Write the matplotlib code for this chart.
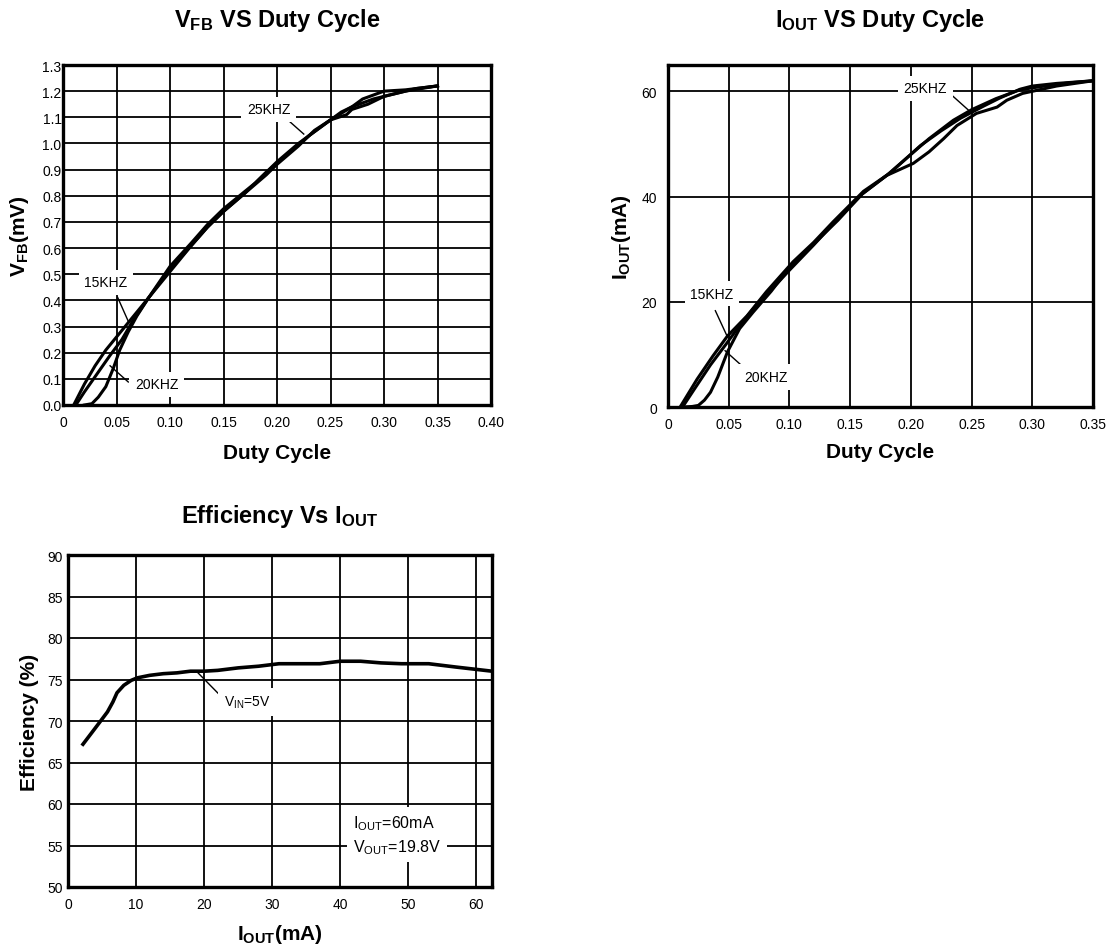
import matplotlib
matplotlib.use("Agg")
import matplotlib.pyplot as plt
from matplotlib.ticker import MultipleLocator, FixedLocator

plt.rcParams["font.family"] = ["Liberation Sans", "DejaVu Sans"]
plt.rcParams["mathtext.fontset"] = "custom"
plt.rcParams["mathtext.rm"] = "Liberation Sans"
plt.rcParams["mathtext.bf"] = "Liberation Sans:bold"
plt.rcParams["mathtext.it"] = "Liberation Sans:italic"

# --- V_FB vs duty cycle ---
vfb_x15 = [0.010, 0.020, 0.030, 0.040, 0.050, 0.060, 0.070, 0.080, 0.090, 0.100, 0.110, 0.120, 0.135,
           0.150, 0.170, 0.190, 0.200, 0.220, 0.235, 0.250, 0.260, 0.270, 0.280, 0.290, 0.300, 0.320, 0.350]
vfb_y15 = [0.00, 0.08, 0.15, 0.21, 0.26, 0.31, 0.36, 0.41, 0.46, 0.51, 0.56, 0.61, 0.68,
           0.74, 0.81, 0.88, 0.92, 0.99, 1.05, 1.09, 1.12, 1.14, 1.17, 1.185, 1.20, 1.205, 1.22]
vfb_x20 = [0.012, 0.020, 0.032, 0.044, 0.055, 0.065, 0.080, 0.100, 0.120, 0.135, 0.150, 0.170, 0.190,
           0.210, 0.230, 0.250, 0.270, 0.290, 0.310, 0.330, 0.350]
vfb_y20 = [0.00, 0.05, 0.12, 0.19, 0.25, 0.32, 0.41, 0.52, 0.61, 0.68, 0.74, 0.81, 0.89,
           0.96, 1.03, 1.09, 1.14, 1.17, 1.19, 1.21, 1.22]
vfb_x25 = [0.020, 0.027, 0.033, 0.040, 0.047, 0.053, 0.061, 0.069, 0.080, 0.100, 0.120, 0.135, 0.150,
           0.165, 0.180, 0.200, 0.220, 0.240, 0.250, 0.265, 0.270, 0.285, 0.300, 0.320, 0.350]
vfb_y25 = [0.00, 0.005, 0.03, 0.07, 0.14, 0.21, 0.28, 0.34, 0.41, 0.53, 0.62, 0.69, 0.75,
           0.80, 0.85, 0.93, 1.00, 1.06, 1.09, 1.11, 1.13, 1.15, 1.18, 1.20, 1.22]

# --- I_OUT vs duty cycle ---
iout_x15 = [0.010, 0.024, 0.037, 0.049, 0.065, 0.081, 0.103, 0.120, 0.136, 0.161, 0.183, 0.208, 0.225,
            0.241, 0.260, 0.273, 0.290, 0.300, 0.320, 0.350]
iout_y15 = [0.0, 5.3, 9.7, 13.5, 17.3, 21.9, 27.6, 31.3, 35.2, 41.0, 44.5, 49.7, 52.5,
            54.9, 57.2, 58.7, 60.4, 61.0, 61.5, 62.0]
iout_x20 = [0.012, 0.022, 0.035, 0.048, 0.060, 0.075, 0.090, 0.100, 0.120, 0.140, 0.160, 0.180, 0.200,
            0.215, 0.235, 0.250, 0.270, 0.290, 0.310, 0.330, 0.350]
iout_y20 = [0.0, 3.5, 8.0, 12.0, 15.8, 20.0, 23.5, 26.0, 30.8, 35.8, 40.5, 44.0, 48.0,
            51.0, 54.5, 56.5, 58.6, 60.3, 61.0, 61.6, 62.0]
iout_x25 = [0.012, 0.020, 0.025, 0.030, 0.035, 0.041, 0.049, 0.059, 0.070, 0.085, 0.100, 0.120, 0.140,
            0.160, 0.180, 0.202, 0.215, 0.227, 0.238, 0.254, 0.271, 0.279, 0.292, 0.304, 0.320, 0.350]
iout_y25 = [0.0, 0.1, 0.3, 1.3, 2.8, 5.7, 10.5, 14.9, 18.0, 22.0, 26.5, 31.0, 35.5,
            40.5, 44.0, 46.3, 48.5, 51.0, 53.5, 55.8, 57.0, 58.3, 59.6, 60.2, 61.0, 62.0]

# --- efficiency vs I_OUT ---
eff_x = [2.2, 3.5, 4.7, 5.8, 6.6, 7.2, 8.2, 9.3, 10.2, 12, 14, 16, 18, 20, 22, 25, 28, 31, 34, 37,
         40, 43, 46, 49, 53, 57, 62.3]
eff_y = [67.2, 68.6, 69.9, 71.1, 72.3, 73.4, 74.3, 74.9, 75.2, 75.5, 75.7, 75.8, 76.0, 76.0, 76.1,
         76.4, 76.6, 76.9, 76.9, 76.9, 77.2, 77.2, 77.0, 76.9, 76.9, 76.5, 76.0]

duty_ticks1 = [0, 0.05, 0.10, 0.15, 0.20, 0.25, 0.30, 0.35, 0.40]
duty_labels1 = ["0", "0.05", "0.10", "0.15", "0.20", "0.25", "0.30", "0.35", "0.40"]
duty_ticks2 = duty_ticks1[:-1]
duty_labels2 = duty_labels1[:-1]

W, H = 1110, 945
fig = plt.figure(figsize=(W / 100, H / 100), dpi=100)


def box(l, t, r, b):
    return [l / W, 1 - b / H, (r - l) / W, (b - t) / H]


def style(ax):
    ax.grid(True, color="black", lw=1.3)
    ax.set_axisbelow(True)
    for s in ax.spines.values():
        s.set_linewidth(2.4)
    ax.tick_params(length=0, labelsize=10)


def note(ax, txt, xy, line_from, line_to, fs=10):
    ax.plot([line_from[0], line_to[0]], [line_from[1], line_to[1]], color="black", lw=1.0, zorder=4)
    ax.text(xy[0], xy[1], txt, fontsize=fs, ha="center", va="center", zorder=5,
            bbox=dict(facecolor="white", edgecolor="none", pad=4))


# plot 1
ax1 = fig.add_axes(box(63, 66, 491, 406))
style(ax1)
for xs, ys in [(vfb_x15, vfb_y15), (vfb_x20, vfb_y20), (vfb_x25, vfb_y25)]:
    ax1.plot(xs, ys, color="black", lw=2.2, zorder=3)
ax1.set_xlim(0, 0.40)
ax1.set_ylim(0, 1.3)
ax1.xaxis.set_major_locator(FixedLocator(duty_ticks1))
ax1.set_xticklabels(duty_labels1)
ax1.yaxis.set_major_locator(MultipleLocator(0.1))
ax1.yaxis.set_major_formatter(lambda v, p: f"{v:.1f}")
ax1.tick_params(axis="y", pad=1)
ax1.tick_params(axis="x", pad=7)
ax1.set_title(r"V$_{\mathbf{FB}}$ VS Duty Cycle", fontsize=17, fontweight="bold", pad=28)
ax1.set_xlabel("Duty Cycle", fontsize=15, fontweight="bold", labelpad=10)
ax1.set_ylabel(r"V$_{\mathbf{FB}}$(mV)", fontsize=15, fontweight="bold", labelpad=8)
note(ax1, "25KHZ", (0.192, 1.13), (0.209, 1.094), (0.225, 1.036))
note(ax1, "15KHZ", (0.040, 0.47), (0.051, 0.412), (0.061, 0.32))
note(ax1, "20KHZ", (0.0875, 0.08), (0.061, 0.088), (0.044, 0.15))

# plot 2
ax2 = fig.add_axes(box(668, 66, 1093, 408))
style(ax2)
for xs, ys in [(iout_x15, iout_y15), (iout_x20, iout_y20), (iout_x25, iout_y25)]:
    ax2.plot(xs, ys, color="black", lw=2.2, zorder=3)
ax2.set_xlim(0, 0.35)
ax2.set_ylim(0, 65)
ax2.xaxis.set_major_locator(FixedLocator(duty_ticks2))
ax2.set_xticklabels(duty_labels2)
ax2.yaxis.set_major_locator(FixedLocator([0, 20, 40, 60]))
ax2.tick_params(axis="y", pad=8)
ax2.tick_params(axis="x", pad=7)
ax2.set_title(r"I$_{\mathbf{OUT}}$ VS Duty Cycle", fontsize=17, fontweight="bold", pad=28)
ax2.set_xlabel("Duty Cycle", fontsize=15, fontweight="bold", labelpad=8)
ax2.set_ylabel(r"I$_{\mathbf{OUT}}$(mA)", fontsize=15, fontweight="bold", labelpad=6)
note(ax2, "25KHZ", (0.212, 60.6), (0.234, 59.2), (0.249, 56.1))
note(ax2, "15KHZ", (0.036, 21.5), (0.039, 18.3), (0.049, 13.3))
note(ax2, "20KHZ", (0.081, 5.7), (0.062, 7.6), (0.047, 10.7))

# plot 3
ax3 = fig.add_axes(box(68, 556, 492, 888))
style(ax3)
ax3.plot(eff_x, eff_y, color="black", lw=2.6, zorder=3)
ax3.set_xlim(0, 62.3)
ax3.set_ylim(50, 90)
ax3.xaxis.set_major_locator(MultipleLocator(10))
ax3.yaxis.set_major_locator(MultipleLocator(5))
ax3.tick_params(axis="y", pad=4)
ax3.tick_params(axis="x", pad=7)
ax3.set_title(r"Efficiency Vs I$_{\mathbf{OUT}}$", fontsize=17, fontweight="bold", pad=24)
ax3.set_xlabel(r"I$_{\mathbf{OUT}}$(mA)", fontsize=15, fontweight="bold", labelpad=8)
ax3.set_ylabel("Efficiency (%)", fontsize=15, fontweight="bold", labelpad=6)
note(ax3, r"V$_{\mathrm{IN}}$=5V", (26.3, 72.3), (19.1, 75.8), (22.1, 73.3))
ax3.text(41.9, 56.3, "I$_{\\mathrm{OUT}}$=60mA\nV$_{\\mathrm{OUT}}$=19.8V", fontsize=11.5,
         ha="left", va="center", zorder=5, linespacing=1.4,
         bbox=dict(facecolor="white", edgecolor="none", pad=4.5))

fig.savefig("out.png", dpi=100)
